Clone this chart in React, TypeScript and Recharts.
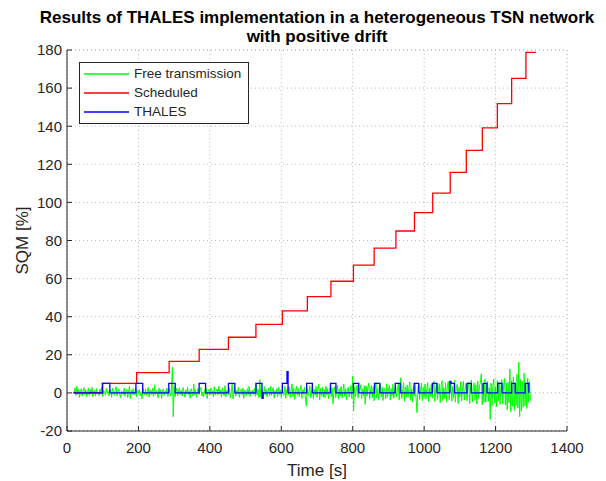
import { LineChart, Line, XAxis, YAxis, CartesianGrid, Legend, Label } from 'recharts';

const X_TICKS = [0, 200, 400, 600, 800, 1000, 1200, 1400];
const Y_TICKS = [-20, 0, 20, 40, 60, 80, 100, 120, 140, 160, 180];
const X_MINOR = [
  0, 50, 100, 150, 200, 250, 300, 350, 400, 450, 500, 550, 600, 650, 700,
  750, 800, 850, 900, 950, 1000, 1050, 1100, 1150, 1200, 1250, 1300, 1350, 1400,
];
const Y_MINOR = [
  -20, -15, -10, -5, 0, 5, 10, 15, 20, 25, 30, 35, 40, 45, 50, 55, 60, 65, 70,
  75, 80, 85, 90, 95, 100, 105, 110, 115, 120, 125, 130, 135, 140, 145, 150,
  155, 160, 165, 170, 175, 180,
];

// Scheduled: stair steps (time at which the level starts, level)
const SCHEDULED_T = [
  18, 100, 195, 286, 370, 452, 529, 603, 673, 739, 802, 860, 921, 973, 1024,
  1073, 1118, 1163, 1205, 1245, 1285, 1313,
];
const SCHEDULED_V = [
  0, 5.0, 10.6, 16.6, 22.9, 29.2, 36.0, 43.1, 50.5, 58.6, 67.1, 76.0, 85.0,
  94.6, 104.9, 115.8, 127.3, 139.1, 151.8, 165.1, 178.8, 178.8,
];

// THALES: short correction pulses
const THALES_T = [
  18, 99, 120, 193, 212, 285, 303, 370, 388, 452, 470, 529, 546, 549, 603, 616,
  619, 671, 687, 738, 753, 802, 817, 861, 876, 919, 933, 972, 985, 1023, 1036,
  1072, 1075, 1085, 1120, 1132, 1165, 1176, 1206, 1218, 1245, 1255, 1283, 1293,
];
const THALES_V = [
  0, 5, 0, 5, 0, 5, 0, 5, 0, 5, 0, 5, -2.8, 0, 5, 11.1,
  0, 5, 0, 5, 0, 5, 0, 5, 0, 5, 0, 5, 0, 5, 0,
  6, 5, 0, 5, 0, 5, 0, 5, 0, 5, 0, 5, 0,
];

// Free transmission: one sample every 2.5 s starting at t = 20 s
const FREE_T0 = 20;
const FREE_DT = 2.5;
const FREE_V = [
  // 20 - 117.5
  0.4, 2.6, -1.3, 3.5, -0.8, 1.9, -2.4, 0.7, 2.2, -1.6, 1.1, 2.8, -0.9, 1.6, -2.1, 0.3, 2.5, -1.2, 1.8, -0.4,
  2.9, -2.0, 0.9, 1.4, -1.7, 2.3, -0.6, 0.5, -1.4, 2.0, -0.7, 3.1, -1.9, 1.2, 0.6, -1.1, 2.4, -0.3, 1.0, -1.5,
  // 120 - 217.5
  -0.6, 1.7, -2.3, 2.6, 0.2, -1.2, 1.4, 3.3, -1.5, 0.8, 2.1, -0.4, -2.7, 1.0, 0.4, -0.9, 2.5, -1.8, 0.6, 1.9,
  -2.5, 0.9, 3.6, -3.0, 1.4, -0.7, 2.2, -1.1, 0.3, 2.7, -2.0, 1.2, -0.5, 1.8, -1.6, 0.7, -3.2, 2.3, 0.5, -1.0,
  // 220 - 317.5
  2.1, -1.4, 0.8, 2.9, -2.2, 0.4, 1.6, -0.9, 2.4, -1.8, 4.2, -1.0, 1.3, 0.2, -2.6, 2.5, -0.6, 1.7, -2.9, 0.9,
  2.0, -1.3, 1.1, -0.5, 2.6, -1.9, 0.7, 2.2, -1.6, 1.4, 13.5, -12.5, 3.2, -2.1, 0.8, 2.4, -1.5, 1.0, 2.7, -0.8,
  // 320 - 417.5
  1.3, -1.7, 2.8, 0.5, -2.3, 1.6, -0.4, 3.0, -1.1, 0.9, -2.8, 2.2, 0.3, -1.5, 4.6, -1.0, 1.8, -2.4, 0.6, 2.5,
  -0.9, 1.2, 2.9, -1.6, 0.4, -2.2, 1.7, -0.7, 2.4, -3.0, 0.8, 1.9, -1.3, 2.6, -0.5, 1.1, -2.0, 3.2, -1.2, 0.7,
  // 420 - 517.5
  2.0, -1.1, 3.4, -0.6, 1.5, -2.3, 2.7, 0.2, -1.5, 3.8, -2.0, 1.3, 0.6, -0.9, 2.3, -2.6, 1.0, 5.2, -3.1, 0.8,
  2.4, -1.7, 1.2, -0.4, 3.0, -2.3, 0.9, 1.8, -1.0, 2.6, -2.9, 1.5, 0.3, -1.4, 2.2, -0.8, 3.5, -1.9, 1.1, -0.5,
  // 520 - 617.5
  1.4, -0.9, 2.5, -1.8, 4.4, -1.2, 2.0, -2.6, 7.0, -2.2, 1.7, 0.5, -3.0, 3.3, -1.0, 1.9, -2.1, 0.8, 2.6, -1.5,
  3.5, -1.3, 0.6, 2.8, -2.7, 1.2, -0.6, 2.3, -1.9, 3.1, -0.8, 1.5, -2.4, 2.0, 0.4, -1.2, 3.4, -2.8, 1.0, 2.2,
  // 620 - 717.5
  -1.0, 3.2, -2.4, 1.5, 4.8, -1.8, 2.5, -3.4, 0.7, 3.6, -1.2, 2.2, -2.0, 1.1, 4.0, -2.9, 1.6, -0.5, 2.9, -2.3,
  -7.0, 2.4, -1.5, 0.9, 3.7, -2.6, 1.3, 4.1, -3.2, 2.0, -1.1, 3.5, -2.4, 1.7, 4.5, -3.6, 2.3, -1.4, 3.0, -2.2,
  // 720 - 817.5
  1.8, -2.5, 3.6, -1.0, 2.4, -3.1, 1.2, 4.3, -2.0, 2.7, -5.8, 1.5, 3.2, -2.4, 0.9, 4.0, -3.3, 2.1, -1.6, 3.4,
  -2.7, 1.0, 4.6, -1.8, 2.3, -3.5, 1.7, 3.0, -2.2, 0.8, 3.9, -2.9, 8.8, -9.5, 3.2, -2.1, 1.4, 4.2, -2.6, 1.9,
  // 820 - 917.5
  1.5, 4.3, -3.0, 2.2, -1.4, 3.8, -6.0, 3.6, -1.8, 2.9, 5.1, -3.3, 1.6, 4.0, -2.5, 3.3, -4.2, 1.9, 5.6, -2.7,
  2.4, -3.6, 1.2, 4.4, -2.1, 3.0, -4.0, 2.5, 1.0, -3.1, 4.8, -2.3, 1.7, 3.9, -3.7, 2.2, -1.5, 4.5, -2.8, 1.3,
  // 920 - 1017.5
  3.8, -2.0, 1.4, 4.6, -3.8, 2.7, 8.0, -3.0, 1.8, 5.4, -4.4, 3.1, -2.2, 4.2, -2.3, 2.8, 5.8, -3.9, 2.0, -4.6,
  3.3, -1.7, 4.9, -3.2, -10.4, 2.5, 4.4, -3.5, 1.6, 5.2, -4.1, 2.9, -2.4, 4.7, -3.3, 1.9, 5.5, -4.5, 2.6, -1.8,
  // 1020 - 1117.5
  4.4, -2.8, 3.0, 6.2, -4.5, 2.3, 5.0, -3.4, 1.9, 4.8, -5.2, 3.5, 6.4, -4.0, 2.6, -3.1, 5.3, -4.8, 3.2, 6.0,
  -3.6, 2.1, 5.7, -4.3, 3.4, -2.6, 6.6, -4.9, 2.8, 4.5, -5.6, 3.0, -2.0, 5.9, -4.2, 2.4, 6.1, -3.8, 1.7, 5.0,
  // 1120 - 1217.5
  -4.2, 2.9, 5.6, -5.5, 3.4, 6.8, -4.6, 2.1, 5.3, -3.9, 4.1, -5.8, 6.2, -3.0, 3.8, 5.4, 10.0, -6.2, 4.6, -4.8,
  7.2, -5.0, 3.3, 6.0, -4.4, 2.7, -13.9, 5.1, -6.6, 4.0, 7.4, -5.3, 3.0, -7.2, 6.5, -4.1, 5.8, -6.0, 3.6, 7.0,
  // 1220 - 1297.5
  -5.8, 4.0, 7.6, -6.4, 5.2, -8.8, 5.6, -5.2, 12.5, -10.0, 6.4, -7.0, 8.4, -9.2, 5.0, -6.6, 9.8, -8.0, 16.2, -12.5,
  7.0, -9.6, 6.2, -7.5, 10.4, -6.8, 5.4, -8.2, 7.8, -5.0, 6.0, -4.0,
];

const SERIES_COLORS: Record<string, string> = {
  'Free transmission': '#00ff00',
  Scheduled: '#ff0000',
  THALES: '#0000ff',
};

const FONT = '"Liberation Sans", Arial, Helvetica, sans-serif';
const INK = '#262626';

const freeData = FREE_V.map((v, i) => ({ t: FREE_T0 + i * FREE_DT, v }));
const scheduledData = SCHEDULED_T.map((t, i) => ({ t, v: SCHEDULED_V[i] }));
const thalesData = THALES_T.map((t, i) => ({ t, v: THALES_V[i] }));

const tickStyle = { fill: INK, fontSize: 15, fontFamily: FONT };

const LegendBox = ({ payload }: any) => (
  <div
    style={{
      border: `1px solid ${INK}`,
      background: '#fff',
      width: 168,
      height: 59,
      paddingTop: 1,
      boxSizing: 'content-box',
      fontFamily: FONT,
      fontSize: 13.5,
      color: INK,
    }}
  >
    {(payload || []).map((p: any) => (
      <div key={p.value} style={{ display: 'flex', alignItems: 'center', height: 19 }}>
        <svg width={45} height={4} style={{ marginLeft: 4, marginRight: 5, display: 'block' }}>
          <line
            x1={0}
            y1={2}
            x2={45}
            y2={2}
            stroke={SERIES_COLORS[p.value] || p.color}
            strokeWidth={1.3}
          />
        </svg>
        <span>{p.value}</span>
      </div>
    ))}
  </div>
);

const YLabel = ({ viewBox }: any) => {
  if (!viewBox) return null;
  const cx = viewBox.x + 14;
  const cy = viewBox.y + viewBox.height / 2;
  return (
    <text
      x={cx}
      y={cy}
      transform={`rotate(-90 ${cx} ${cy})`}
      textAnchor="middle"
      dominantBaseline="central"
      fill={INK}
      fontSize={17}
      fontFamily={FONT}
    >
      SQM [%]
    </text>
  );
};

const App = () => {
  return (
    <div style={{ position: 'relative', width: 590, height: 473, fontFamily: FONT }}>
      <div
        style={{
          position: 'absolute',
          top: 0,
          left: 309,
          transform: 'translateX(-50%)',
          whiteSpace: 'nowrap',
          textAlign: 'center',
          fontWeight: 'bold',
          fontSize: 17,
          lineHeight: '19px',
          color: '#000',
          zIndex: 2,
        }}
      >
        Results of THALES implementation in a heterogeneous TSN network
        <br />
        with positive drift
      </div>
      <LineChart width={590} height={473} margin={{ top: 42, right: 31, left: 0, bottom: 0 }}>
        <CartesianGrid
          xAxisId="minor"
          yAxisId="minor"
          stroke="#c8c8c8"
          strokeDasharray="1 3"
        />
        <CartesianGrid stroke="#b8b8b8" strokeDasharray="1 3" />
        <XAxis
          xAxisId="minor"
          dataKey="t"
          type="number"
          domain={[0, 1400]}
          ticks={X_MINOR}
          height={0}
          tick={false}
          tickLine={false}
          axisLine={false}
          allowDataOverflow
        />
        <YAxis
          yAxisId="minor"
          type="number"
          domain={[-20, 180]}
          ticks={Y_MINOR}
          width={0}
          tick={false}
          tickLine={false}
          axisLine={false}
          allowDataOverflow
        />
        <XAxis
          dataKey="t"
          type="number"
          domain={[0, 1400]}
          ticks={X_TICKS}
          height={50}
          tickSize={-5}
          tickMargin={16}
          stroke={INK}
          tick={tickStyle}
          allowDataOverflow
        >
          <Label
            value="Time [s]"
            position="insideBottom"
            offset={5}
            fill={INK}
            fontSize={17}
            fontFamily={FONT}
          />
        </XAxis>
        <YAxis
          type="number"
          domain={[-20, 180]}
          ticks={Y_TICKS}
          width={59}
          tickSize={-5}
          tickMargin={10}
          stroke={INK}
          tick={tickStyle}
          allowDataOverflow
        >
          <Label content={YLabel} />
        </YAxis>
        <XAxis
          xAxisId="top"
          orientation="top"
          type="number"
          domain={[0, 1400]}
          ticks={X_TICKS}
          height={0}
          tickSize={-5}
          tickFormatter={() => ''}
          stroke={INK}
          allowDataOverflow
        />
        <YAxis
          yAxisId="right"
          orientation="right"
          type="number"
          domain={[-20, 180]}
          ticks={Y_TICKS}
          width={0}
          tickSize={-5}
          tickFormatter={() => ''}
          stroke={INK}
          allowDataOverflow
        />
        <Legend
          content={LegendBox}
          layout="horizontal"
          verticalAlign="middle"
          align="center"
          wrapperStyle={{ left: 71, top: 54, width: 170, height: 61 }}
        />
        <Line
          data={freeData}
          dataKey="v"
          name="Free transmission"
          type="linear"
          stroke="#00ff00"
          strokeWidth={1}
          dot={false}
          isAnimationActive={false}
        />
        <Line
          data={scheduledData}
          dataKey="v"
          name="Scheduled"
          type="stepAfter"
          stroke="#ff0000"
          strokeWidth={1.3}
          dot={false}
          isAnimationActive={false}
        />
        <Line
          data={thalesData}
          dataKey="v"
          name="THALES"
          type="stepAfter"
          stroke="#0000ff"
          strokeWidth={1.3}
          dot={false}
          isAnimationActive={false}
        />
      </LineChart>
    </div>
  );
};

export default App;
